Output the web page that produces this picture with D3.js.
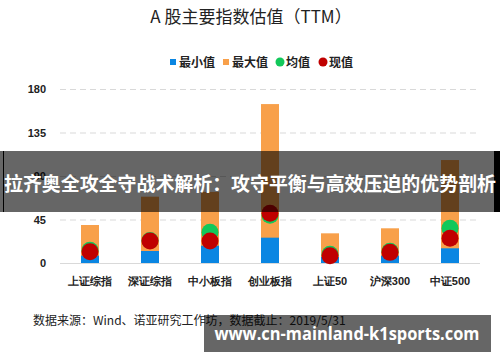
<!DOCTYPE html>
<html><head><meta charset="utf-8">
<script src="https://cdn.jsdelivr.net/npm/d3@7"></script>
<style>body{margin:0;background:#fff;}svg{display:block;font-family:"Noto Sans CJK SC","Noto Sans",sans-serif;}</style>
</head><body>
<svg id="c" width="500" height="362"></svg>
<script>
const categories = ["上证综指","深证综指","中小板指","创业板指","上证50","沪深300","中证500"];
const minValues = [7.6, 12.4, 17.9, 26.2, 6.2, 7.6, 15.2];
const maxValues = [39.3, 68.6, 73.5, 164.4, 30.7, 35.9, 106.5];
const meanValues = [13.2, 23.2, 31.7, 49.5, 9.0, 12.2, 35.9];
const currentValues = [11.7, 22.7, 22.7, 51.4, 7.6, 11.0, 25.5];
const yTicks = [0, 45, 90, 135, 180];
const legendLabels = ["最小值","最大值","均值","现值"];
const colors = {min:"#0a86e2", max:"#f8a04a", mean:"#12c85a", cur:"#c00000"};

const svg = d3.select("#c");
const x = d3.scaleBand().domain(categories).range([60,480]).paddingInner(0.7).paddingOuter(0.35);
const y = d3.scaleLinear().domain([0,180]).range([263,89]);

// title
svg.append("text").attr("x",251).attr("y",23).attr("text-anchor","middle")
  .attr("font-size",17).attr("fill","#222").text("A 股主要指数估值（TTM）");

// legend
const lg = svg.append("g").attr("font-size",12).attr("font-weight","bold").attr("fill","#222");
const legendX = [170, 223, 277, 320];
const legendKinds = ["rect","rect","circle","circle"];
const legendColors = [colors.min, colors.max, colors.mean, colors.cur];
legendLabels.forEach((l,i)=>{
  if(legendKinds[i]==="rect") lg.append("rect").attr("x",legendX[i]).attr("y",59).attr("width",6).attr("height",6).attr("fill",legendColors[i]);
  else lg.append("circle").attr("cx",legendX[i]+3).attr("cy",62).attr("r",4.5).attr("fill",legendColors[i]);
  lg.append("text").attr("x",legendX[i]+9).attr("y",66.5).text(l);
});

// y axis gridlines
const yAxis = d3.axisLeft(y).tickValues(yTicks).tickSize(-420).tickPadding(14);
const ga = svg.append("g").attr("transform","translate(60,0)").call(yAxis);
ga.select(".domain").remove();
ga.selectAll(".tick line").attr("stroke","#d9d9d9").attr("stroke-width",1)
  .attr("stroke-dasharray",d=>d===0?null:"6,4");
ga.selectAll(".tick text").attr("font-size",11).attr("font-weight","bold").attr("fill","#222")
  .attr("font-family","Liberation Sans, Arial, sans-serif");

// bars
const data = categories.map((c,i)=>({c, mn:minValues[i], mx:maxValues[i], me:meanValues[i], cu:currentValues[i]}));
svg.append("g").selectAll("rect").data(data).join("rect")
  .attr("x",d=>x(d.c)).attr("width",x.bandwidth()).attr("y",d=>y(d.mx)).attr("height",d=>y(0)-y(d.mx)).attr("fill",colors.max);
svg.append("g").selectAll("rect").data(data).join("rect")
  .attr("x",d=>x(d.c)).attr("width",x.bandwidth()).attr("y",d=>y(d.mn)).attr("height",d=>y(0)-y(d.mn)).attr("fill",colors.min);
svg.append("g").selectAll("circle").data(data).join("circle")
  .attr("cx",d=>x(d.c)+x.bandwidth()/2).attr("cy",d=>y(d.me)).attr("r",8.5).attr("fill",colors.mean);
svg.append("g").selectAll("circle").data(data).join("circle")
  .attr("cx",d=>x(d.c)+x.bandwidth()/2).attr("cy",d=>y(d.cu)).attr("r",8.5).attr("fill",colors.cur);

// x labels
const gx = svg.append("g").attr("transform","translate(0,263)").call(d3.axisBottom(x).tickSize(0).tickPadding(14));
gx.select(".domain").remove();
gx.selectAll(".tick text").attr("font-size",11).attr("font-weight","bold").attr("fill","#222");

// source
svg.append("text").attr("x",33).attr("y",325).attr("font-size",12).attr("fill","#222")
  .text("数据来源：Wind、诺亚研究工作坊，数据截止：2019/5/31");

// overlay banner
svg.append("rect").attr("x",0).attr("y",151).attr("width",500).attr("height",61).attr("fill","rgba(0,0,0,0.6)");
svg.append("rect").attr("x",494).attr("y",151).attr("width",6).attr("height",61).attr("fill","#000");
svg.append("rect").attr("x",3).attr("y",151).attr("width",1).attr("height",61).attr("fill","#000");
svg.append("text").attr("x",250).attr("y",191).attr("text-anchor","middle").attr("font-size",19).attr("font-weight","bold")
  .attr("fill","#fff").attr("textLength",492).attr("lengthAdjust","spacingAndGlyphs")
  .text("拉齐奥全攻全守战术解析：攻守平衡与高效压迫的优势剖析");

// watermark
svg.append("rect").attr("x",204).attr("y",315).attr("width",287).attr("height",37).attr("fill","rgba(0,0,0,0.6)");
svg.append("text").attr("x",347).attr("y",340).attr("text-anchor","middle").attr("font-size",17).attr("font-weight","bold")
  .attr("fill","#fff").attr("font-family","Open Sans, sans-serif").attr("textLength",265).attr("lengthAdjust","spacingAndGlyphs")
  .text("www.cn-mainland-k1sports.com");
</script>
</body></html>
